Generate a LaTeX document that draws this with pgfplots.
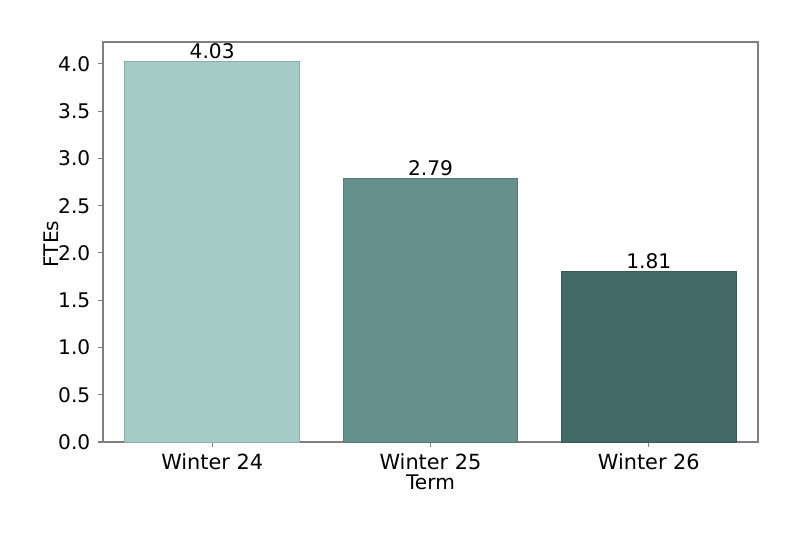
\documentclass[border=0pt]{standalone}
\usepackage{fontspec}
\setmainfont{DejaVu Sans}
\usepackage{pgfplots}
\pgfplotsset{compat=1.18}
\definecolor{c1}{HTML}{A5CBC7}
\definecolor{c2}{HTML}{66908C}
\definecolor{c3}{HTML}{426A66}
\definecolor{frame}{HTML}{808080}
\begin{document}
\begin{tikzpicture}
\begin{axis}[
  scale only axis,
  width=471.6bp, height=288bp,
  xmin=-0.5, xmax=2.5,
  ymin=0, ymax=4.2315,
  ybar, bar width=0.8,
  xtick={0,1,2},
  xticklabels={Winter 24,Winter 25,Winter 26},
  ytick={0,0.5,...,4.0},
  tick pos=left,
  tick align=outside,
  major tick length=3.5bp,
  tick style={frame, line width=0.8bp},
  axis line style={frame, line width=0.8bp},
  font=\fontsize{14.5bp}{17bp}\selectfont,
  /pgf/number format/assume math mode=true,
  yticklabel style={/pgf/number format/fixed, /pgf/number format/fixed zerofill, /pgf/number format/precision=1, anchor=east, inner sep=0pt, xshift=-5.5bp},
  xticklabel style={anchor=base, inner sep=0pt, yshift=-16bp, font=\fontsize{15bp}{18bp}\selectfont},
  ylabel={FTEs},
  xlabel={Term},
  ylabel style={at={(rel axis cs:-0.0794,0.495)}, anchor=center, inner sep=0pt},
  xlabel style={at={(rel axis cs:0.5,-0.118)}, anchor=base, inner sep=0pt, font=\fontsize{14.5bp}{17bp}\selectfont},
  nodes near coords,
  every node near coord/.append style={anchor=south, inner sep=0pt, yshift=1.5bp,
    /pgf/number format/fixed, /pgf/number format/fixed zerofill, /pgf/number format/precision=2},
  clip=false,
]
\addplot[bar shift=0pt, fill=c1, draw=c1!85!black, line width=0.5bp] coordinates {(0,4.03)};
\addplot[bar shift=0pt, fill=c2, draw=c2!85!black, line width=0.5bp] coordinates {(1,2.79)};
\addplot[bar shift=0pt, fill=c3, draw=c3!85!black, line width=0.5bp] coordinates {(2,1.81)};
\path (rel axis cs:-0.15725,-0.2275) rectangle (rel axis cs:1.06412,1.105);
\end{axis}
\end{tikzpicture}
\end{document}
